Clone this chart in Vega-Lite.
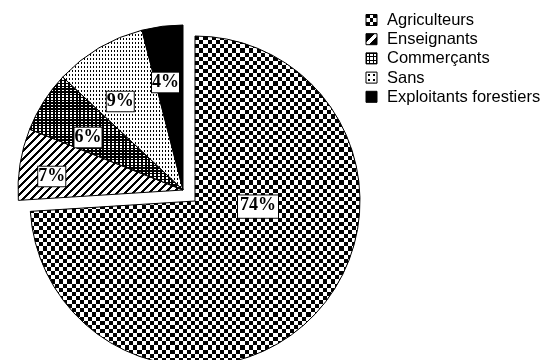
{
  "$schema": "https://vega.github.io/schema/vega-lite/v6.json",
  "background": "white",
  "padding": 0,
  "spacing": 0,
  "bounds": "flush",
  "config": {"view": {"stroke": null}},
  "params": [
    {"name": "gV", "value": {"gradient": "linear", "x1": 0, "y1": 0, "x2": 1, "y2": 0, "stops": [
      {"offset":0,"color":"#000"},{"offset":0.0125,"color":"#000"},{"offset":0.0125,"color":"#fff"},{"offset":0.025,"color":"#fff"},
      {"offset":0.025,"color":"#000"},{"offset":0.0375,"color":"#000"},{"offset":0.0375,"color":"#fff"},{"offset":0.05,"color":"#fff"},
      {"offset":0.05,"color":"#000"},{"offset":0.0625,"color":"#000"},{"offset":0.0625,"color":"#fff"},{"offset":0.075,"color":"#fff"},
      {"offset":0.075,"color":"#000"},{"offset":0.0875,"color":"#000"},{"offset":0.0875,"color":"#fff"},{"offset":0.1,"color":"#fff"},
      {"offset":0.1,"color":"#000"},{"offset":0.1125,"color":"#000"},{"offset":0.1125,"color":"#fff"},{"offset":0.125,"color":"#fff"},
      {"offset":0.125,"color":"#000"},{"offset":0.1375,"color":"#000"},{"offset":0.1375,"color":"#fff"},{"offset":0.15,"color":"#fff"},
      {"offset":0.15,"color":"#000"},{"offset":0.1625,"color":"#000"},{"offset":0.1625,"color":"#fff"},{"offset":0.175,"color":"#fff"},
      {"offset":0.175,"color":"#000"},{"offset":0.1875,"color":"#000"},{"offset":0.1875,"color":"#fff"},{"offset":0.2,"color":"#fff"},
      {"offset":0.2,"color":"#000"},{"offset":0.2125,"color":"#000"},{"offset":0.2125,"color":"#fff"},{"offset":0.225,"color":"#fff"},
      {"offset":0.225,"color":"#000"},{"offset":0.2375,"color":"#000"},{"offset":0.2375,"color":"#fff"},{"offset":0.25,"color":"#fff"},
      {"offset":0.25,"color":"#000"},{"offset":0.2625,"color":"#000"},{"offset":0.2625,"color":"#fff"},{"offset":0.275,"color":"#fff"},
      {"offset":0.275,"color":"#000"},{"offset":0.2875,"color":"#000"},{"offset":0.2875,"color":"#fff"},{"offset":0.3,"color":"#fff"},
      {"offset":0.3,"color":"#000"},{"offset":0.3125,"color":"#000"},{"offset":0.3125,"color":"#fff"},{"offset":0.325,"color":"#fff"},
      {"offset":0.325,"color":"#000"},{"offset":0.3375,"color":"#000"},{"offset":0.3375,"color":"#fff"},{"offset":0.35,"color":"#fff"},
      {"offset":0.35,"color":"#000"},{"offset":0.3625,"color":"#000"},{"offset":0.3625,"color":"#fff"},{"offset":0.375,"color":"#fff"},
      {"offset":0.375,"color":"#000"},{"offset":0.3875,"color":"#000"},{"offset":0.3875,"color":"#fff"},{"offset":0.4,"color":"#fff"},
      {"offset":0.4,"color":"#000"},{"offset":0.4125,"color":"#000"},{"offset":0.4125,"color":"#fff"},{"offset":0.425,"color":"#fff"},
      {"offset":0.425,"color":"#000"},{"offset":0.4375,"color":"#000"},{"offset":0.4375,"color":"#fff"},{"offset":0.45,"color":"#fff"},
      {"offset":0.45,"color":"#000"},{"offset":0.4625,"color":"#000"},{"offset":0.4625,"color":"#fff"},{"offset":0.475,"color":"#fff"},
      {"offset":0.475,"color":"#000"},{"offset":0.4875,"color":"#000"},{"offset":0.4875,"color":"#fff"},{"offset":0.5,"color":"#fff"},
      {"offset":0.5,"color":"#000"},{"offset":0.5125,"color":"#000"},{"offset":0.5125,"color":"#fff"},{"offset":0.525,"color":"#fff"},
      {"offset":0.525,"color":"#000"},{"offset":0.5375,"color":"#000"},{"offset":0.5375,"color":"#fff"},{"offset":0.55,"color":"#fff"},
      {"offset":0.55,"color":"#000"},{"offset":0.5625,"color":"#000"},{"offset":0.5625,"color":"#fff"},{"offset":0.575,"color":"#fff"},
      {"offset":0.575,"color":"#000"},{"offset":0.5875,"color":"#000"},{"offset":0.5875,"color":"#fff"},{"offset":0.6,"color":"#fff"},
      {"offset":0.6,"color":"#000"},{"offset":0.6125,"color":"#000"},{"offset":0.6125,"color":"#fff"},{"offset":0.625,"color":"#fff"},
      {"offset":0.625,"color":"#000"},{"offset":0.6375,"color":"#000"},{"offset":0.6375,"color":"#fff"},{"offset":0.65,"color":"#fff"},
      {"offset":0.65,"color":"#000"},{"offset":0.6625,"color":"#000"},{"offset":0.6625,"color":"#fff"},{"offset":0.675,"color":"#fff"},
      {"offset":0.675,"color":"#000"},{"offset":0.6875,"color":"#000"},{"offset":0.6875,"color":"#fff"},{"offset":0.7,"color":"#fff"},
      {"offset":0.7,"color":"#000"},{"offset":0.7125,"color":"#000"},{"offset":0.7125,"color":"#fff"},{"offset":0.725,"color":"#fff"},
      {"offset":0.725,"color":"#000"},{"offset":0.7375,"color":"#000"},{"offset":0.7375,"color":"#fff"},{"offset":0.75,"color":"#fff"},
      {"offset":0.75,"color":"#000"},{"offset":0.7625,"color":"#000"},{"offset":0.7625,"color":"#fff"},{"offset":0.775,"color":"#fff"},
      {"offset":0.775,"color":"#000"},{"offset":0.7875,"color":"#000"},{"offset":0.7875,"color":"#fff"},{"offset":0.8,"color":"#fff"},
      {"offset":0.8,"color":"#000"},{"offset":0.8125,"color":"#000"},{"offset":0.8125,"color":"#fff"},{"offset":0.825,"color":"#fff"},
      {"offset":0.825,"color":"#000"},{"offset":0.8375,"color":"#000"},{"offset":0.8375,"color":"#fff"},{"offset":0.85,"color":"#fff"},
      {"offset":0.85,"color":"#000"},{"offset":0.8625,"color":"#000"},{"offset":0.8625,"color":"#fff"},{"offset":0.875,"color":"#fff"},
      {"offset":0.875,"color":"#000"},{"offset":0.8875,"color":"#000"},{"offset":0.8875,"color":"#fff"},{"offset":0.9,"color":"#fff"},
      {"offset":0.9,"color":"#000"},{"offset":0.9125,"color":"#000"},{"offset":0.9125,"color":"#fff"},{"offset":0.925,"color":"#fff"},
      {"offset":0.925,"color":"#000"},{"offset":0.9375,"color":"#000"},{"offset":0.9375,"color":"#fff"},{"offset":0.95,"color":"#fff"},
      {"offset":0.95,"color":"#000"},{"offset":0.9625,"color":"#000"},{"offset":0.9625,"color":"#fff"},{"offset":0.975,"color":"#fff"},
      {"offset":0.975,"color":"#000"},{"offset":0.9875,"color":"#000"},{"offset":0.9875,"color":"#fff"},{"offset":1,"color":"#fff"}
    ]}},
    {"name": "gH", "expr": "{gradient: 'linear', x1: 0, y1: 0, x2: 0, y2: 1, stops: gV.stops}"},
    {"name": "gHatchA", "expr": "{gradient: 'linear', x1: 0, y1: 0, x2: 1.636, y2: 0.705, stops: gV.stops}"},
    {"name": "gHatchB", "expr": "{gradient: 'linear', x1: 0.00614, y1: 0.00264, x2: 1.6421, y2: 0.7076, stops: gV.stops}"}
  ],
  "datasets": {
    "jobs": [
      {"cat": "Agriculteurs", "share": 0.74},
      {"cat": "Enseignants", "share": 0.07},
      {"cat": "Commerçants", "share": 0.06},
      {"cat": "Sans", "share": 0.09},
      {"cat": "Exploitants forestiers", "share": 0.04}
    ]
  },
  "hconcat": [
    {
      "width": 340,
      "height": 360,
      "data": {"name": "jobs"},
      "transform": [{"stack": "share", "groupby": [], "as": ["s0", "s1"]}],
      "layer": [
        {
          "transform": [{"filter": "datum.cat === 'Agriculteurs'"}],
          "mark": {"type": "arc", "outerRadius": 165, "xOffset": 25, "yOffset": 21, "fill": {"expr": "gV"}},
          "encoding": {"theta": {"field": "s0", "type": "quantitative", "stack": null, "scale": {"domain": [0, 1]}}, "theta2": {"field": "s1"}}
        },
        {
          "transform": [{"filter": "datum.cat === 'Agriculteurs'"}],
          "mark": {"type": "arc", "outerRadius": 165, "xOffset": 25, "yOffset": 21, "fill": {"expr": "gH"}, "blend": "difference"},
          "encoding": {"theta": {"field": "s0", "type": "quantitative", "stack": null, "scale": {"domain": [0, 1]}}, "theta2": {"field": "s1"}}
        },
        {
          "transform": [{"filter": "datum.cat === 'Enseignants'"}],
          "mark": {"type": "arc", "outerRadius": 165, "xOffset": 13, "yOffset": 10, "fill": {"expr": "gHatchA"}},
          "encoding": {"theta": {"field": "s0", "type": "quantitative", "stack": null, "scale": {"domain": [0, 1]}}, "theta2": {"field": "s1"}}
        },
        {
          "transform": [{"filter": "datum.cat === 'Enseignants'"}],
          "mark": {"type": "arc", "outerRadius": 165, "xOffset": 13, "yOffset": 10, "fill": {"expr": "gHatchB"}, "blend": "screen"},
          "encoding": {"theta": {"field": "s0", "type": "quantitative", "stack": null, "scale": {"domain": [0, 1]}}, "theta2": {"field": "s1"}}
        },
        {
          "transform": [{"filter": "datum.cat === 'Commerçants'"}],
          "mark": {"type": "arc", "outerRadius": 165, "xOffset": 13, "yOffset": 10, "fill": {"expr": "gV"}},
          "encoding": {"theta": {"field": "s0", "type": "quantitative", "stack": null, "scale": {"domain": [0, 1]}}, "theta2": {"field": "s1"}}
        },
        {
          "transform": [{"filter": "datum.cat === 'Commerçants'"}],
          "mark": {"type": "arc", "outerRadius": 165, "xOffset": 13, "yOffset": 10, "fill": {"expr": "gH"}, "blend": "multiply"},
          "encoding": {"theta": {"field": "s0", "type": "quantitative", "stack": null, "scale": {"domain": [0, 1]}}, "theta2": {"field": "s1"}}
        },
        {
          "transform": [{"filter": "datum.cat === 'Sans'"}],
          "mark": {"type": "arc", "outerRadius": 165, "xOffset": 13, "yOffset": 10, "fill": {"expr": "gV"}},
          "encoding": {"theta": {"field": "s0", "type": "quantitative", "stack": null, "scale": {"domain": [0, 1]}}, "theta2": {"field": "s1"}}
        },
        {
          "transform": [{"filter": "datum.cat === 'Sans'"}],
          "mark": {"type": "arc", "outerRadius": 165, "xOffset": 13, "yOffset": 10, "fill": {"expr": "gH"}, "blend": "screen"},
          "encoding": {"theta": {"field": "s0", "type": "quantitative", "stack": null, "scale": {"domain": [0, 1]}}, "theta2": {"field": "s1"}}
        },
        {
          "transform": [{"filter": "datum.cat === 'Exploitants forestiers'"}],
          "mark": {"type": "arc", "outerRadius": 165, "xOffset": 13, "yOffset": 10, "fill": "#000"},
          "encoding": {"theta": {"field": "s0", "type": "quantitative", "stack": null, "scale": {"domain": [0, 1]}}, "theta2": {"field": "s1"}}
        },
        {
          "transform": [{"filter": "datum.cat === 'Agriculteurs'"}],
          "mark": {"type": "arc", "outerRadius": 165, "xOffset": 25, "yOffset": 21, "fill": "transparent", "stroke": "#000", "strokeWidth": 1},
          "encoding": {"theta": {"field": "s0", "type": "quantitative", "stack": null, "scale": {"domain": [0, 1]}}, "theta2": {"field": "s1"}}
        },
        {
          "transform": [{"filter": "datum.cat !== 'Agriculteurs'"}],
          "mark": {"type": "arc", "outerRadius": 165, "xOffset": 13, "yOffset": 10, "fill": "transparent", "stroke": "#000", "strokeWidth": 1},
          "encoding": {"theta": {"field": "s0", "type": "quantitative", "stack": null, "scale": {"domain": [0, 1]}}, "theta2": {"field": "s1"}}
        },
        {
          "mark": {"type": "text", "text": "—", "font": "Liberation Sans", "fontSize": 19, "radius": 63, "xOffset": 25, "yOffset": 21, "align": "center", "baseline": "middle", "fill": "#000", "stroke": "#000", "strokeWidth": 23},
          "encoding": {
            "theta": {"field": "share", "type": "quantitative", "stack": true, "bandPosition": 0.35, "scale": {"domain": [0, 1]}},
            "order": {"field": "s0", "type": "quantitative"},
            "opacity": {"condition": {"test": "datum.cat === 'Agriculteurs'", "value": 1}, "value": 0}
          }
        },
        {
          "mark": {"type": "text", "text": "—", "font": "Liberation Sans", "fontSize": 19, "radius": 63, "xOffset": 25, "yOffset": 21, "align": "center", "baseline": "middle", "fill": "#fff", "stroke": "#fff", "strokeWidth": 21},
          "encoding": {
            "theta": {"field": "share", "type": "quantitative", "stack": true, "bandPosition": 0.35, "scale": {"domain": [0, 1]}},
            "order": {"field": "s0", "type": "quantitative"},
            "opacity": {"condition": {"test": "datum.cat === 'Agriculteurs'", "value": 1}, "value": 0}
          }
        },
        {
          "mark": {"type": "text", "font": "Liberation Serif", "fontWeight": "bold", "fontSize": 18, "radius": 63, "xOffset": 25, "yOffset": 21, "align": "center", "baseline": "middle", "fill": "#000"},
          "encoding": {
            "theta": {"field": "share", "type": "quantitative", "stack": true, "bandPosition": 0.35, "scale": {"domain": [0, 1]}},
            "order": {"field": "s0", "type": "quantitative"},
            "text": {"field": "share", "type": "quantitative", "format": ".0%"},
            "opacity": {"condition": {"test": "datum.cat === 'Agriculteurs'", "value": 1}, "value": 0}
          }
        },
        {
          "mark": {"type": "text", "text": "—", "font": "Liberation Sans", "fontSize": 8, "radius": 132, "xOffset": 13, "yOffset": 10, "align": "center", "baseline": "middle", "fill": "#000", "stroke": "#000", "strokeWidth": 21},
          "encoding": {
            "theta": {"field": "share", "type": "quantitative", "stack": true, "bandPosition": 0.38, "scale": {"domain": [0, 1]}},
            "order": {"field": "s0", "type": "quantitative"},
            "opacity": {"condition": {"test": "datum.cat === 'Enseignants'", "value": 1}, "value": 0}
          }
        },
        {
          "mark": {"type": "text", "text": "—", "font": "Liberation Sans", "fontSize": 8, "radius": 132, "xOffset": 13, "yOffset": 10, "align": "center", "baseline": "middle", "fill": "#fff", "stroke": "#fff", "strokeWidth": 19},
          "encoding": {
            "theta": {"field": "share", "type": "quantitative", "stack": true, "bandPosition": 0.38, "scale": {"domain": [0, 1]}},
            "order": {"field": "s0", "type": "quantitative"},
            "opacity": {"condition": {"test": "datum.cat === 'Enseignants'", "value": 1}, "value": 0}
          }
        },
        {
          "mark": {"type": "text", "font": "Liberation Serif", "fontWeight": "bold", "fontSize": 18, "radius": 132, "xOffset": 13, "yOffset": 10, "align": "center", "baseline": "middle", "fill": "#000"},
          "encoding": {
            "theta": {"field": "share", "type": "quantitative", "stack": true, "bandPosition": 0.38, "scale": {"domain": [0, 1]}},
            "order": {"field": "s0", "type": "quantitative"},
            "text": {"field": "share", "type": "quantitative", "format": ".0%"},
            "opacity": {"condition": {"test": "datum.cat === 'Enseignants'", "value": 1}, "value": 0}
          }
        },
        {
          "mark": {"type": "text", "text": "—", "font": "Liberation Sans", "fontSize": 8, "radius": 109, "xOffset": 13, "yOffset": 10, "align": "center", "baseline": "middle", "fill": "#000", "stroke": "#000", "strokeWidth": 21},
          "encoding": {
            "theta": {"field": "share", "type": "quantitative", "stack": true, "bandPosition": 0.36, "scale": {"domain": [0, 1]}},
            "order": {"field": "s0", "type": "quantitative"},
            "opacity": {"condition": {"test": "datum.cat === 'Commerçants' || datum.cat === 'Sans' || datum.cat === 'Exploitants forestiers'", "value": 1}, "value": 0}
          }
        },
        {
          "mark": {"type": "text", "text": "—", "font": "Liberation Sans", "fontSize": 8, "radius": 109, "xOffset": 13, "yOffset": 10, "align": "center", "baseline": "middle", "fill": "#fff", "stroke": "#fff", "strokeWidth": 19},
          "encoding": {
            "theta": {"field": "share", "type": "quantitative", "stack": true, "bandPosition": 0.36, "scale": {"domain": [0, 1]}},
            "order": {"field": "s0", "type": "quantitative"},
            "opacity": {"condition": {"test": "datum.cat === 'Commerçants' || datum.cat === 'Sans' || datum.cat === 'Exploitants forestiers'", "value": 1}, "value": 0}
          }
        },
        {
          "mark": {"type": "text", "font": "Liberation Serif", "fontWeight": "bold", "fontSize": 18, "radius": 109, "xOffset": 13, "yOffset": 10, "align": "center", "baseline": "middle", "fill": "#000"},
          "encoding": {
            "theta": {"field": "share", "type": "quantitative", "stack": true, "bandPosition": 0.36, "scale": {"domain": [0, 1]}},
            "order": {"field": "s0", "type": "quantitative"},
            "text": {"field": "share", "type": "quantitative", "format": ".0%"},
            "opacity": {"condition": {"test": "datum.cat === 'Commerçants' || datum.cat === 'Sans' || datum.cat === 'Exploitants forestiers'", "value": 1}, "value": 0}
          }
        }
      ]
    },
    {
      "width": 63,
      "height": 120,
      "data": {"name": "jobs"},
      "encoding": {
        "y": {"field": "cat", "type": "nominal", "axis": null, "sort": null,
              "scale": {"domain": ["Agriculteurs", "Enseignants", "Commerçants", "Sans", "Exploitants forestiers"], "range": [20, 96.8], "padding": 0}}
      },
      "layer": [
        {
          "transform": [{"filter": "datum.cat === 'Agriculteurs'"}],
          "mark": {"type": "point", "shape": "square", "size": 121, "filled": true, "opacity": 1, "strokeWidth": 0,
                   "fill": {"gradient": "linear", "x1": 0, "y1": 0, "x2": 1, "y2": 0, "stops": [{"offset":0,"color":"#000"},{"offset":0.34,"color":"#000"},{"offset":0.34,"color":"#fff"},{"offset":0.66,"color":"#fff"},{"offset":0.66,"color":"#000"},{"offset":1,"color":"#000"}]}}
        },
        {
          "transform": [{"filter": "datum.cat === 'Agriculteurs'"}],
          "mark": {"type": "point", "shape": "square", "size": 121, "filled": true, "opacity": 1, "strokeWidth": 0, "blend": "difference",
                   "fill": {"gradient": "linear", "x1": 0, "y1": 0, "x2": 0, "y2": 1, "stops": [{"offset":0,"color":"#000"},{"offset":0.34,"color":"#000"},{"offset":0.34,"color":"#fff"},{"offset":0.66,"color":"#fff"},{"offset":0.66,"color":"#000"},{"offset":1,"color":"#000"}]}}
        },
        {
          "transform": [{"filter": "datum.cat === 'Enseignants'"}],
          "mark": {"type": "point", "shape": "square", "size": 121, "filled": true, "opacity": 1, "strokeWidth": 0,
                   "fill": {"gradient": "linear", "x1": 0, "y1": 0, "x2": 1, "y2": 1, "stops": [{"offset":0,"color":"#000"},{"offset":0.38,"color":"#000"},{"offset":0.38,"color":"#fff"},{"offset":0.62,"color":"#fff"},{"offset":0.62,"color":"#000"},{"offset":1,"color":"#000"}]}}
        },
        {
          "transform": [{"filter": "datum.cat === 'Commerçants'"}],
          "mark": {"type": "point", "shape": "square", "size": 121, "filled": true, "opacity": 1, "strokeWidth": 0,
                   "fill": {"gradient": "linear", "x1": 0, "y1": 0, "x2": 1, "y2": 0, "stops": [{"offset":0,"color":"#000"},{"offset":0.1,"color":"#000"},{"offset":0.1,"color":"#fff"},{"offset":0.3,"color":"#fff"},{"offset":0.3,"color":"#000"},{"offset":0.4,"color":"#000"},{"offset":0.4,"color":"#fff"},{"offset":0.6,"color":"#fff"},{"offset":0.6,"color":"#000"},{"offset":0.7,"color":"#000"},{"offset":0.7,"color":"#fff"},{"offset":0.9,"color":"#fff"},{"offset":0.9,"color":"#000"},{"offset":1,"color":"#000"}]}}
        },
        {
          "transform": [{"filter": "datum.cat === 'Commerçants'"}],
          "mark": {"type": "point", "shape": "square", "size": 121, "filled": true, "opacity": 1, "strokeWidth": 0, "blend": "multiply",
                   "fill": {"gradient": "linear", "x1": 0, "y1": 0, "x2": 0, "y2": 1, "stops": [{"offset":0,"color":"#000"},{"offset":0.1,"color":"#000"},{"offset":0.1,"color":"#fff"},{"offset":0.3,"color":"#fff"},{"offset":0.3,"color":"#000"},{"offset":0.4,"color":"#000"},{"offset":0.4,"color":"#fff"},{"offset":0.6,"color":"#fff"},{"offset":0.6,"color":"#000"},{"offset":0.7,"color":"#000"},{"offset":0.7,"color":"#fff"},{"offset":0.9,"color":"#fff"},{"offset":0.9,"color":"#000"},{"offset":1,"color":"#000"}]}}
        },
        {
          "transform": [{"filter": "datum.cat === 'Sans'"}],
          "mark": {"type": "point", "shape": "square", "size": 121, "filled": true, "opacity": 1, "strokeWidth": 0,
                   "fill": {"gradient": "linear", "x1": 0, "y1": 0, "x2": 1, "y2": 0, "stops": [{"offset":0,"color":"#fff"},{"offset":0.2,"color":"#fff"},{"offset":0.2,"color":"#000"},{"offset":0.35,"color":"#000"},{"offset":0.35,"color":"#fff"},{"offset":0.65,"color":"#fff"},{"offset":0.65,"color":"#000"},{"offset":0.8,"color":"#000"},{"offset":0.8,"color":"#fff"},{"offset":1,"color":"#fff"}]}}
        },
        {
          "transform": [{"filter": "datum.cat === 'Sans'"}],
          "mark": {"type": "point", "shape": "square", "size": 121, "filled": true, "opacity": 1, "strokeWidth": 0, "blend": "screen",
                   "fill": {"gradient": "linear", "x1": 0, "y1": 0, "x2": 0, "y2": 1, "stops": [{"offset":0,"color":"#fff"},{"offset":0.2,"color":"#fff"},{"offset":0.2,"color":"#000"},{"offset":0.35,"color":"#000"},{"offset":0.35,"color":"#fff"},{"offset":0.65,"color":"#fff"},{"offset":0.65,"color":"#000"},{"offset":0.8,"color":"#000"},{"offset":0.8,"color":"#fff"},{"offset":1,"color":"#fff"}]}}
        },
        {
          "transform": [{"filter": "datum.cat === 'Exploitants forestiers'"}],
          "mark": {"type": "point", "shape": "square", "size": 121, "filled": true, "opacity": 1, "strokeWidth": 0, "fill": "#000"}
        },
        {
          "mark": {"type": "point", "shape": "square", "size": 121, "filled": false, "opacity": 1, "stroke": "#000", "strokeWidth": 1}
        },
        {
          "mark": {"type": "text", "align": "left", "baseline": "middle", "dx": 15.5, "font": "Liberation Sans", "fontSize": 16.5, "fill": "#000"},
          "encoding": {"text": {"field": "cat", "type": "nominal"}}
        }
      ]
    }
  ]
}
